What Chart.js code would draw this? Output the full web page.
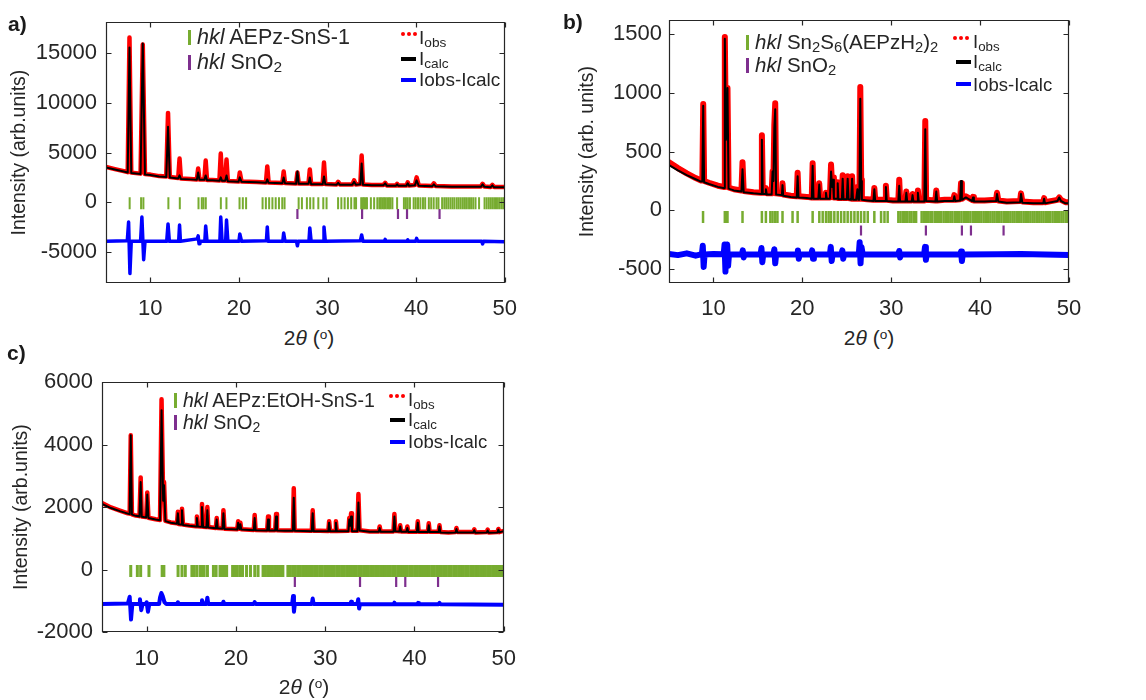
<!DOCTYPE html>
<html>
<head>
<meta charset="utf-8">
<script src="https://cdn.jsdelivr.net/npm/chart.js@4.4.1/dist/chart.umd.min.js"></script>
<style>
  html, body { margin: 0; padding: 0; background: #fff; }
  body { width: 1146px; height: 700px; position: relative; overflow: hidden; font-family: 'Liberation Sans', Arial, sans-serif; color: #262626; }
  canvas { position: absolute; }
  .t { position: absolute; font-size: 21.5px; line-height: 24px; white-space: nowrap; color: #262626; }
  .t sub { font-size: 0.72em; vertical-align: -0.2em; line-height: 0; }
  .r { font-size: 19px; }
  .mk { position: absolute; width: 3px; height: 15px; }
  .ln { position: absolute; width: 15px; height: 4px; }
  .dots { position: absolute; height: 5px; width: 18px; }
  .dots i { display: inline-block; width: 4px; height: 4px; border-radius: 50%; background: #ff0000; margin-right: 2px; vertical-align: top; }
  .xt { position: absolute; width: 200px; text-align: center; font-size: 21px; line-height: 26px; }
  .xt sup { font-size: 0.65em; vertical-align: 0.45em; line-height: 0; }
  .pl { position: absolute; font-weight: bold; font-size: 21px; line-height: 24px; color: #1a1a1a; }
</style>
</head>
<body>
<canvas id="ca" width="530" height="325" style="left:0;top:0"></canvas>
<canvas id="cb" width="540" height="325" style="left:560px;top:0"></canvas>
<canvas id="cc" width="530" height="330" style="left:0;top:360px"></canvas>

<div class="pl" style="left:8px;top:12px">a)</div>
<div class="pl" style="left:563px;top:10px">b)</div>
<div class="pl" style="left:7px;top:341px">c)</div>

<!-- panel a legend -->
<div class="mk" style="left:188px;top:30px;background:#77ac30"></div>
<div class="t" style="left:197px;top:25px"><i>hkl</i> AEPz-SnS-1</div>
<div class="mk" style="left:188px;top:55px;background:#7e2f8e"></div>
<div class="t" style="left:197px;top:50px"><i>hkl</i> SnO<sub>2</sub></div>
<div class="dots" style="left:401px;top:32px"><i></i><i></i><i></i></div>
<div class="t r" style="left:419px;top:26px">I<sub>obs</sub></div>
<div class="ln" style="left:401px;top:57px;background:#000"></div>
<div class="t r" style="left:419px;top:47px">I<sub>calc</sub></div>
<div class="ln" style="left:401px;top:78px;background:#0000ff"></div>
<div class="t r" style="left:419px;top:68px">Iobs-Icalc</div>

<!-- panel b legend -->
<div class="mk" style="left:746px;top:35px;background:#77ac30"></div>
<div class="t" style="left:755px;top:30px;font-size:20.5px"><i>hkl</i> Sn<sub>2</sub>S<sub>6</sub>(AEPzH<sub>2</sub>)<sub>2</sub></div>
<div class="mk" style="left:746px;top:58px;background:#7e2f8e"></div>
<div class="t" style="left:755px;top:53px;font-size:20.5px"><i>hkl</i> SnO<sub>2</sub></div>
<div class="dots" style="left:953px;top:36px"><i></i><i></i><i></i></div>
<div class="t r" style="left:973px;top:30px;font-size:18.5px">I<sub>obs</sub></div>
<div class="ln" style="left:956px;top:60px;background:#000"></div>
<div class="t r" style="left:973px;top:50px;font-size:18.5px">I<sub>calc</sub></div>
<div class="ln" style="left:956px;top:82px;background:#0000ff"></div>
<div class="t r" style="left:973px;top:73px;font-size:18.5px">Iobs-Icalc</div>

<!-- panel c legend -->
<div class="mk" style="left:174px;top:393px;background:#77ac30"></div>
<div class="t" style="left:183px;top:388px;font-size:19.5px"><i>hkl</i> AEPz:EtOH-SnS-1</div>
<div class="mk" style="left:174px;top:415px;background:#7e2f8e"></div>
<div class="t" style="left:183px;top:410px;font-size:19.5px"><i>hkl</i> SnO<sub>2</sub></div>
<div class="dots" style="left:389px;top:394px"><i></i><i></i><i></i></div>
<div class="t r" style="left:408px;top:388px;font-size:18.5px">I<sub>obs</sub></div>
<div class="ln" style="left:390px;top:418px;background:#000"></div>
<div class="t r" style="left:408px;top:408px;font-size:18.5px">I<sub>calc</sub></div>
<div class="ln" style="left:390px;top:440px;background:#0000ff"></div>
<div class="t r" style="left:408px;top:430px;font-size:18.5px">Iobs-Icalc</div>

<!-- x axis titles -->
<div class="xt" style="left:209px;top:325px">2<i>θ</i> (<sup>o</sup>)</div>
<div class="xt" style="left:769px;top:325px">2<i>θ</i> (<sup>o</sup>)</div>
<div class="xt" style="left:204px;top:674px">2<i>θ</i> (<sup>o</sup>)</div>

<script>
// ---------------- shared ----------------
const xTickVals = [10, 20, 30, 40, 50];
const sno2Hkl = [26.6, 33.9, 37.95, 38.97, 42.64];

// ---------------- panel a: AEPz-SnS-1 ----------------
const aTheta = [
  5, 6, 7,
  7.45, 7.65, 7.85,
  8.9, 9.15, 9.4,
  10, 11,
  11.8, 12.0, 12.2,
  13.15, 13.3, 13.45,
  14.5,
  15.25, 15.4, 15.55,
  16.1, 16.25, 16.4,
  17.0,
  17.8, 17.95, 18.1,
  18.45, 18.6, 18.75,
  19.95, 20.1, 20.3,
  22.0,
  23.05, 23.2, 23.35,
  24.9, 25.05, 25.2,
  26.45, 26.6, 26.75,
  27.85, 28.0, 28.15,
  29.45, 29.6, 29.75,
  31.0, 31.2, 31.4,
  32.8, 33.0, 33.2,
  33.7, 33.85, 34.0,
  35.0,
  36.3, 36.5, 36.7,
  37.7, 37.85, 38.0,
  38.9, 39.05, 39.2,
  39.85, 40.05, 40.3,
  41.8, 42.0, 42.2,
  44.0, 45.5,
  47.3, 47.5, 47.7,
  48.4, 48.6, 48.8,
  50
];
const aCalc = [
  3500, 3300, 3100,
  3000, 15600, 2950,
  2850, 16000, 2800,
  2750, 2600,
  2550, 7600, 2500,
  2400, 2700, 2350,
  2300,
  2250, 3000, 2250,
  2250, 2700, 2200,
  2200,
  2150, 2500, 2150,
  2150, 2700, 2100,
  2050, 2500, 2050,
  2000,
  1950, 2300, 1950,
  1900, 2500, 1900,
  1850, 3100, 1850,
  1850, 2500, 1800,
  1800, 2600, 1800,
  1750, 1950, 1750,
  1750, 2050, 1750,
  1800, 3900, 1750,
  1700,
  1700, 1900, 1650,
  1650, 1800, 1650,
  1650, 1900, 1650,
  1700, 2200, 1650,
  1600, 1800, 1600,
  1550, 1550,
  1550, 1800, 1550,
  1500, 1700, 1500,
  1500
];
const aObs = [
  3550, 3330, 3130,
  3030, 16600, 2980,
  2880, 15900, 2830,
  2780, 2630,
  2580, 9000, 2530,
  2430, 4400, 2380,
  2330,
  2280, 3400, 2280,
  2280, 4200, 2230,
  2230,
  2180, 4900, 2180,
  2180, 4300, 2130,
  2080, 3000, 2080,
  2030,
  1980, 3600, 1980,
  1930, 3100, 1930,
  1880, 3000, 1880,
  1880, 3300, 1830,
  1830, 4000, 1830,
  1780, 2050, 1780,
  1780, 2200, 1780,
  1830, 4700, 1780,
  1730,
  1730, 1950, 1680,
  1680, 1850, 1680,
  1680, 2000, 1680,
  1730, 2500, 1680,
  1630, 1900, 1630,
  1580, 1580,
  1580, 1850, 1580,
  1530, 1750, 1530,
  1530
];
const aDiffTheta = [
  5,
  7.4, 7.55, 7.7, 7.85,
  8.9, 9.05, 9.25, 9.4,
  11.85, 12.0, 12.15,
  13.2, 13.3, 13.4,
  15.3, 15.4, 15.5, 15.6,
  16.15, 16.25, 16.4,
  17.85, 17.95, 18.1,
  18.5, 18.6, 18.75,
  20.0, 20.1, 20.3,
  23.1, 23.2, 23.3,
  24.95, 25.05, 25.2,
  26.5, 26.6, 26.7,
  27.9, 28.0, 28.15,
  29.5, 29.6, 29.75,
  33.7, 33.85, 34.0,
  36.4, 36.5, 36.6,
  38.95, 39.05, 39.15,
  39.95, 40.05, 40.2,
  47.4, 47.5, 47.6,
  50
];
const aDiff = [
  -3950,
  -3900, -2000, -7200, -3950,
  -3950, -1500, -5800, -3950,
  -3950, -2200, -3950,
  -3950, -2300, -3950,
  -3700, -3400, -4200, -3950,
  -3950, -2400, -3950,
  -3950, -1500, -3950,
  -3950, -1800, -3950,
  -3950, -3200, -3950,
  -3900, -2500, -3950,
  -3950, -3100, -3950,
  -3950, -4400, -3950,
  -3950, -2600, -3950,
  -3950, -2500, -3950,
  -3900, -3300, -3950,
  -3950, -3750, -3950,
  -3950, -3800, -3950,
  -3950, -3650, -3950,
  -3950, -4200, -3950,
  -4000
];
const aHkl = [7.67, 8.96, 9.22, 12.04, 13.33, 15.44, 15.81, 16.0, 16.26, 17.96, 18.59, 20.07, 20.44, 20.81,
  22.67, 23.04, 23.41, 23.78, 24.15, 24.52, 24.89, 25.15, 26.74, 27.11, 27.67, 28.04, 28.41, 28.96, 29.52, 29.89,
  31.19, 31.56, 31.93, 32.3, 32.67, 33.04, 33.22, 33.8, 33.97, 34.12, 34.3, 34.45, 34.89, 35.26, 35.62, 35.85,
  36.02, 36.2, 36.38, 36.55, 36.74, 36.93, 37.1, 37.32, 37.85, 38.62, 38.84, 39.05, 39.3, 39.72, 39.95, 40.21,
  40.48, 40.77, 41.02, 41.43, 41.7, 41.98, 42.3, 42.52, 42.93, 43.18, 43.4, 43.63, 43.87, 44.1, 44.32, 44.58,
  44.8, 45.03, 45.27, 45.5, 45.72, 45.97, 46.2, 46.44, 46.7, 47.1, 47.72, 47.96, 48.2, 48.43, 48.66, 48.9,
  49.12, 49.36, 49.6, 49.82, 50.0];
const aYTicks = [-5000, 0, 5000, 10000, 15000];
const aLevels = { phase: -100, sno2: -1180 };

// ---------------- panel b: Sn2S6(AEPzH2)2 ----------------
const bTheta = [
  5, 6, 7, 8, 8.6,
  8.75, 8.85, 8.95,
  9.5, 10.5, 11.1,
  11.2, 11.28, 11.4, 11.5, 11.58, 11.7,
  12.3,
  13.15, 13.27, 13.4,
  14.5,
  15.35, 15.45, 15.55,
  15.8, 15.9, 16.0,
  16.55, 16.65, 16.75, 16.85, 16.95, 17.05,
  17.7, 17.77, 17.85,
  18.7,
  19.37, 19.47, 19.57,
  20.5,
  21.06, 21.16, 21.26,
  21.8, 21.9, 22.0,
  22.55, 22.66, 22.75,
  23.1, 23.23, 23.35, 23.45, 23.55,
  23.9, 23.98, 24.06,
  24.45, 24.54, 24.63,
  25.0, 25.1, 25.2,
  25.5, 25.6, 25.7,
  26.05, 26.2, 26.3,
  26.42, 26.52, 26.62, 26.7,
  27.3,
  28.0, 28.1, 28.2,
  29.3, 29.4, 29.5,
  30.2,
  30.8, 30.9, 31.0,
  31.6, 31.7, 31.8,
  32.3, 32.4, 32.5,
  32.9, 33.0, 33.1,
  33.73, 33.83, 33.93,
  34.97, 35.07, 35.17,
  36.0,
  37.0, 37.1, 37.2,
  37.75, 37.85, 37.95,
  38.4,
  39.1, 39.2, 39.3,
  40.5,
  41.8, 41.9, 42.05,
  43.0,
  44.5, 44.6, 44.75,
  46.0,
  47.1, 47.2, 47.3,
  48.7, 48.9, 49.1,
  49.6, 50
];
const bCalc = [
  385, 340, 300, 265, 245,
  245, 890, 240,
  225, 200, 190,
  190, 1460, 600, 700, 1040, 185,
  170,
  160, 350, 155,
  145,
  140, 600, 140,
  140, 180, 135,
  135, 330, 250, 700, 860, 135,
  130, 215, 125,
  115,
  110, 290, 110,
  105,
  100, 380, 100,
  100, 220, 100,
  100, 150, 100,
  100, 330, 200, 260, 100,
  100, 230, 95,
  95, 270, 95,
  95, 270, 95,
  90, 270, 90,
  90, 180, 90,
  90, 950, 250, 90,
  85,
  80, 180, 80,
  80, 200, 80,
  75,
  75, 210, 75,
  75, 150, 75,
  75, 130, 75,
  75, 150, 75,
  75, 690, 80,
  75, 160, 75,
  80,
  80, 120, 80,
  85, 250, 90,
  110,
  80, 110, 75,
  75,
  80, 140, 75,
  65,
  70, 140, 65,
  60,
  60, 100, 60,
  80, 110, 80,
  60, 60
];
const bObs = [
  410, 360, 315, 275, 255,
  255, 905, 250,
  235, 210, 200,
  200, 1475, 620, 720, 1040, 195,
  180,
  170, 410, 165,
  155,
  150, 640, 150,
  150, 190, 145,
  145, 330, 260, 730, 910, 145,
  140, 230, 135,
  125,
  120, 320, 120,
  115,
  110, 400, 110,
  110, 230, 110,
  110, 150, 110,
  110, 390, 210, 280, 110,
  110, 240, 105,
  105, 300, 105,
  105, 290, 105,
  100, 290, 100,
  100, 200, 100,
  100, 1050, 260, 100,
  95,
  90, 190, 90,
  90, 210, 90,
  85,
  85, 260, 85,
  85, 160, 85,
  85, 140, 85,
  85, 170, 85,
  85, 760, 90,
  85, 170, 85,
  90,
  90, 130, 90,
  95, 230, 100,
  120,
  90, 115, 85,
  85,
  90, 150, 85,
  75,
  80, 145, 75,
  70,
  70, 105, 70,
  90, 110, 90,
  70, 70
];
const bDiffTheta = [
  5, 6, 7, 8,
  8.7, 8.8, 8.9, 9.0,
  10,
  11.15, 11.25, 11.35, 11.45, 11.55, 11.65, 11.75,
  13.2, 13.3, 13.4, 13.5,
  15.3, 15.4, 15.5, 15.6,
  16.75, 16.85, 16.95, 17.05,
  19.4, 19.5, 19.6, 19.7,
  21.0, 21.1, 21.2, 21.3,
  23.1, 23.2, 23.3, 23.4,
  24.4, 24.5, 24.6, 24.7,
  26.35, 26.45, 26.55, 26.65, 26.8,
  30.8, 30.9, 31.0, 31.1,
  33.7, 33.8, 33.9, 34.0,
  37.75, 37.85, 37.95, 38.05,
  42, 44.6, 50
];
const bDiff = [
  -370, -380, -365, -385,
  -372, -300, -480, -375,
  -370,
  -372, -290, -520, -330, -290, -470, -375,
  -375, -340, -400, -375,
  -375, -320, -440, -375,
  -375, -330, -450, -375,
  -375, -340, -410, -375,
  -375, -340, -410, -375,
  -375, -310, -430, -375,
  -375, -340, -410, -375,
  -375, -270, -450, -310, -375,
  -375, -345, -400, -375,
  -375, -310, -420, -375,
  -375, -350, -430, -375,
  -372, -370, -378
];
const bHkl = [8.83, 11.28, 11.45, 11.58, 13.27, 15.45, 15.9, 16.4, 16.65, 16.95, 17.2, 17.77, 18.9, 19.47,
  21.16, 21.91, 22.29, 22.66, 22.96, 23.23, 23.6, 23.98, 24.36, 24.73, 25.1, 25.48, 25.86, 26.23, 26.6, 26.98,
  27.36, 28.1, 28.86, 29.24, 29.6, 30.8, 31.04, 31.3, 31.52, 31.8, 32.06, 32.28, 32.55, 32.8, 33.42, 33.66,
  33.9, 34.13, 34.4, 34.62, 34.9, 35.14, 35.4, 35.63, 35.9, 36.16, 36.38, 36.65, 36.88, 37.15, 37.4, 37.64,
  37.9, 38.16, 38.4, 38.63, 38.9, 39.17, 39.4, 39.66, 39.9, 40.14, 40.4, 40.65, 40.88, 41.15, 41.4, 41.63,
  41.9, 42.15, 42.4, 42.66, 42.9, 43.14, 43.4, 43.65, 43.88, 44.15, 44.4, 44.64, 44.9, 45.15, 45.38, 45.65,
  45.9, 46.13, 46.4, 46.66, 46.9, 47.14, 47.4, 47.65, 47.88, 48.15, 48.4, 48.64, 48.9, 49.15, 49.38, 49.65, 49.9];
const bYTicks = [-500, 0, 500, 1000, 1500];
const bLevels = { phase: -55, sno2: -170 };

// ---------------- panel c: AEPz:EtOH-SnS-1 ----------------
const cTheta = [
  5, 6, 7, 7.9,
  8.1, 8.22, 8.35,
  8.8,
  9.2, 9.33, 9.45,
  9.95, 10.07, 10.2,
  11.0,
  11.5, 11.67, 11.85, 11.95, 12.1,
  12.7,
  13.4, 13.5, 13.6,
  13.85, 13.96, 14.07,
  14.8,
  15.53, 15.63, 15.73,
  16.1, 16.2, 16.32,
  16.7, 16.8, 16.9,
  17.75, 17.85, 17.95,
  18.5, 18.6, 18.72,
  19.5,
  20.15, 20.25, 20.4, 20.5, 20.6,
  22.0, 22.1, 22.2,
  23.5, 23.6, 23.7,
  24.4, 24.5, 24.6,
  25.5,
  26.38, 26.48, 26.58,
  28.5, 28.6, 28.7,
  29.4,
  30.35, 30.44, 30.55,
  31.1, 31.2, 31.3,
  32.6, 32.7, 32.8, 32.9, 33.0,
  33.6, 33.72, 33.85,
  35.0,
  36.0, 36.1, 36.2,
  37.65, 37.75, 37.85,
  38.3, 38.4, 38.5,
  39.1, 39.2, 39.3,
  40.27, 40.37, 40.47,
  41.5, 41.6, 41.7,
  42.7, 42.8, 42.9,
  43.8,
  44.6, 44.7, 44.8,
  46.6, 46.7, 46.8,
  48.1, 48.2, 48.3,
  49.3, 49.4, 49.5,
  50
];
const cCalc = [
  2100, 1970, 1870, 1790,
  1780, 4300, 1760,
  1720,
  1700, 2800, 1690,
  1670, 2400, 1650,
  1600,
  1580, 5100, 2200, 2700, 1550,
  1500,
  1470, 1800, 1450,
  1440, 1900, 1430,
  1400,
  1380, 1650, 1380,
  1370, 2000, 1360,
  1350, 1900, 1350,
  1320, 1600, 1320,
  1310, 1800, 1300,
  1290,
  1280, 1500, 1300, 1450, 1280,
  1260, 1650, 1260,
  1250, 1600, 1250,
  1250, 1700, 1250,
  1240,
  1240, 2300, 1240,
  1230, 1800, 1230,
  1230,
  1225, 1500, 1225,
  1225, 1500, 1225,
  1230, 1600, 1400, 1700, 1230,
  1230, 2150, 1250,
  1210,
  1210, 1330, 1210,
  1210, 1700, 1230,
  1220, 1380, 1210,
  1210, 1330, 1200,
  1200, 1500, 1200,
  1200, 1420, 1200,
  1200, 1380, 1190,
  1180,
  1190, 1300, 1190,
  1190, 1260, 1180,
  1190, 1250, 1180,
  1190, 1280, 1190,
  1230
];
const cObs = [
  2130, 1990, 1890, 1800,
  1790, 4300, 1770,
  1730,
  1710, 2950, 1700,
  1680, 2470, 1660,
  1610,
  1590, 5450, 2250, 2800, 1560,
  1510,
  1480, 1850, 1460,
  1450, 1950, 1440,
  1410,
  1390, 1700, 1390,
  1380, 2100, 1370,
  1360, 2000, 1360,
  1330, 1650, 1330,
  1320, 1900, 1310,
  1300,
  1290, 1550, 1310, 1500, 1290,
  1270, 1750, 1270,
  1260, 1700, 1260,
  1260, 1780, 1260,
  1250,
  1250, 2600, 1250,
  1240, 1900, 1240,
  1240,
  1235, 1550, 1235,
  1235, 1550, 1235,
  1240, 1650, 1410, 1800, 1240,
  1240, 2420, 1260,
  1220,
  1220, 1380, 1220,
  1220, 1780, 1240,
  1230, 1420, 1220,
  1220, 1380, 1210,
  1210, 1550, 1210,
  1210, 1480, 1210,
  1210, 1420, 1200,
  1190,
  1200, 1330, 1200,
  1200, 1290, 1190,
  1200, 1280, 1190,
  1200, 1300, 1200,
  1240
];
const cDiffTheta = [
  5, 7.9, 8.1, 8.25, 8.4,
  9.15, 9.25, 9.4, 9.55,
  9.9, 10.0, 10.15, 10.3,
  11.4, 11.5, 11.65, 11.8, 12.0, 12.2,
  13.4, 13.5, 13.6,
  16.1, 16.2, 16.35,
  16.7, 16.8, 16.9,
  18.5, 18.6, 18.7,
  22.0, 22.1, 22.2,
  26.3, 26.4, 26.5, 26.6,
  28.5, 28.6, 28.7,
  32.8, 32.9, 33.0,
  33.6, 33.7, 33.8, 33.9,
  37.65, 37.75, 37.85,
  40.3, 40.4, 40.5,
  42.7, 42.8, 42.9,
  50
];
const cDiff = [
  -1100, -1090, -870, -1600, -1100,
  -1100, -950, -1300, -1100,
  -1100, -1050, -1350, -1100,
  -1100, -900, -750, -850, -1050, -1100,
  -1100, -1050, -1100,
  -1100, -980, -1100,
  -1100, -900, -1100,
  -1100, -1030, -1100,
  -1100, -1040, -1100,
  -1100, -850, -1350, -1100,
  -1100, -930, -1100,
  -1100, -1030, -1100,
  -1100, -950, -1250, -1100,
  -1110, -1060, -1110,
  -1110, -1070, -1110,
  -1110, -1070, -1110,
  -1130
];
const cHkl = [8.22, 8.96, 9.33, 10.26, 11.74, 11.93, 13.52, 13.96, 14.33, 15.07, 15.33, 15.63, 16.0, 16.22,
  16.44, 16.81, 17.48, 17.78, 18.22, 18.5, 18.74, 18.96, 19.63, 19.89, 20.15, 20.45, 20.74, 21.19, 21.63, 22.11,
  22.48, 23.04, 23.3, 23.56, 23.8, 24.07, 24.33, 24.58, 24.84, 25.1, 25.26, 25.82, 26.1, 26.38, 26.65, 26.92,
  27.2, 27.47, 27.75, 28.02, 28.3, 28.57, 28.84, 29.12, 29.4, 29.66, 29.94, 30.2, 30.48, 30.75, 31.02, 31.3,
  31.57, 31.84, 32.12, 32.4, 32.66, 32.94, 33.2, 33.48, 33.75, 34.02, 34.3, 34.57, 34.84, 35.12, 35.4, 35.66,
  35.94, 36.2, 36.48, 36.75, 37.02, 37.3, 37.57, 37.84, 38.12, 38.4, 38.66, 38.94, 39.2, 39.48, 39.75, 40.02,
  40.3, 40.57, 40.84, 41.12, 41.4, 41.66, 41.94, 42.2, 42.48, 42.75, 43.02, 43.3, 43.57, 43.84, 44.12, 44.4,
  44.66, 44.94, 45.2, 45.48, 45.75, 46.02, 46.3, 46.57, 46.84, 47.12, 47.4, 47.66, 47.94, 48.2, 48.48, 48.75,
  49.02, 49.3, 49.57, 49.84];
const cYTicks = [-2000, 0, 2000, 4000, 6000];
const cLevels = { phase: -45, sno2: -400 };

// ---------------- drawing ----------------
Chart.defaults.font.family = "'Liberation Sans', Arial, sans-serif";
Chart.defaults.color = '#262626';

const pts = (xs, ys) => xs.map((x, i) => ({ x: x, y: ys[i] }));
const lvl = (xs, y) => xs.map(x => ({ x: x, y: y }));

const boxPlugin = {
  id: 'boxTicks',
  afterDatasetsDraw(chart) {
    const { ctx, chartArea: a, scales } = chart;
    const L = Math.round(a.left) + 0.5, R = Math.round(a.right) - 0.5;
    const T = Math.round(a.top) + 0.5, B = Math.round(a.bottom) - 0.5;
    ctx.save();
    ctx.strokeStyle = '#262626';
    ctx.lineWidth = 1.2;
    ctx.beginPath();
    ctx.rect(L, T, R - L, B - T);
    const tl = 5;
    scales.x.ticks.forEach(t => {
      const p = Math.round(scales.x.getPixelForValue(t.value)) + 0.5;
      ctx.moveTo(p, B); ctx.lineTo(p, B - tl);
      ctx.moveTo(p, T); ctx.lineTo(p, T + tl);
    });
    scales.y.ticks.forEach(t => {
      const p = Math.round(scales.y.getPixelForValue(t.value)) + 0.5;
      ctx.moveTo(L, p); ctx.lineTo(L + tl, p);
      ctx.moveTo(R, p); ctx.lineTo(R - tl, p);
    });
    ctx.stroke();
    ctx.restore();
  }
};

function makePanel(id, d, lay) {
  const lineBase = { showLine: true, pointRadius: 0, borderJoinStyle: 'round', borderCapStyle: 'round', tension: 0 };
  new Chart(document.getElementById(id), {
    type: 'scatter',
    data: {
      datasets: [
        Object.assign({ label: 'Icalc', data: pts(d.theta, d.calc), borderColor: '#000000', borderWidth: 2, order: 1 }, lineBase),
        Object.assign({ label: 'Iobs', data: pts(d.theta, d.obs), borderColor: '#ff0000', borderWidth: lay.obsW, order: 4 }, lineBase),
        Object.assign({ label: 'Iobs-Icalc', data: pts(d.diffTheta, d.diff), borderColor: '#0000ff', borderWidth: lay.diffW, order: 2 }, lineBase),
        { label: 'hkl phase', data: lvl(d.hkl, d.levels.phase), showLine: false, pointStyle: 'line', pointRotation: 90,
          pointRadius: 6, pointBorderWidth: lay.hklW, pointBorderColor: '#77ac30', pointBackgroundColor: '#77ac30', order: 0 },
        { label: 'hkl SnO2', data: lvl(sno2Hkl, d.levels.sno2), showLine: false, pointStyle: 'line', pointRotation: 90,
          pointRadius: 5, pointBorderWidth: 2.2, pointBorderColor: '#7e2f8e', pointBackgroundColor: '#7e2f8e', order: 0 }
      ]
    },
    options: {
      responsive: false, animation: false, events: [], devicePixelRatio: 1,
      layout: { padding: { top: lay.top, right: lay.right, left: 0, bottom: 0 } },
      plugins: { legend: { display: false }, tooltip: { enabled: false } },
      scales: {
        x: {
          type: 'linear', min: 5, max: 50,
          afterBuildTicks: s => { s.ticks = xTickVals.map(v => ({ value: v })); },
          afterFit: s => { s.height = lay.xh; },
          grid: { display: false, drawTicks: false }, border: { display: false },
          ticks: { font: { size: 22 }, padding: lay.xpad, maxRotation: 0, autoSkip: false, callback: v => String(v) }
        },
        y: {
          type: 'linear', min: d.ymin, max: d.ymax,
          afterBuildTicks: s => { s.ticks = d.yticks.map(v => ({ value: v })); },
          afterFit: s => { s.width = lay.yw; },
          grid: { display: false, drawTicks: false }, border: { display: false },
          ticks: { font: { size: 22 }, padding: lay.ypad, autoSkip: false, callback: v => String(v) },
          title: { display: true, text: d.ytitle, font: { size: 19.5 }, color: '#262626', padding: { top: lay.ttl, bottom: 0 } }
        }
      }
    },
    plugins: [boxPlugin]
  });
}

makePanel('ca',
  { theta: aTheta, calc: aCalc, obs: aObs, diffTheta: aDiffTheta, diff: aDiff, hkl: aHkl, levels: aLevels,
    yticks: aYTicks, ymin: -8150, ymax: 18150, ytitle: 'Intensity (arb.units)' },
  { top: 15, right: 18, xh: 42, yw: 106, xpad: 13, ypad: 9, ttl: 8.3, obsW: 4.5, diffW: 3.5, hklW: 2 });

makePanel('cb',
  { theta: bTheta, calc: bCalc, obs: bObs, diffTheta: bDiffTheta, diff: bDiff, hkl: bHkl, levels: bLevels,
    yticks: bYTicks, ymin: -617, ymax: 1617, ytitle: 'Intensity (arb. units)' },
  { top: 14, right: 31, xh: 42, yw: 109, xpad: 13, ypad: 7, ttl: 16.3, obsW: 6, diffW: 6, hklW: 2.5 });

makePanel('cc',
  { theta: cTheta, calc: cCalc, obs: cObs, diffTheta: cDiffTheta, diff: cDiff, hkl: cHkl, levels: cLevels,
    yticks: cYTicks, ymin: -2000, ymax: 6000, ytitle: 'Intensity (arb.units)' },
  { top: 17, right: 24, xh: 58, yw: 102, xpad: 14, ypad: 9, ttl: 10.3, obsW: 4.5, diffW: 4, hklW: 3 });
</script>
</body>
</html>
